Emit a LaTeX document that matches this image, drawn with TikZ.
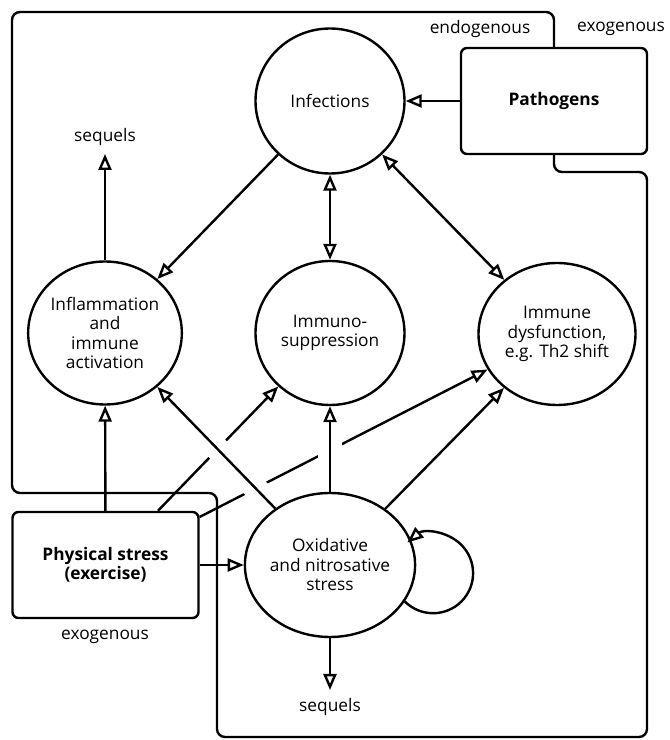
\documentclass[tikz,border=0pt]{standalone}
\usepackage{fontspec}
\setmainfont{Open Sans}
\usetikzlibrary{arrows.meta,shapes.geometric}

\begin{document}
\begin{tikzpicture}[x=1pt, y=1pt,
    txt/.style={font=\fontsize{17.3}{19.5}\selectfont},
    bubble/.style={ellipse, draw, line width=2.4pt, minimum width=149pt, minimum height=144pt, inner sep=0pt, align=center, txt},
    factor/.style={draw, rounded corners=6pt, line width=2.4pt, minimum width=186pt, minimum height=106pt, align=center, font=\fontsize{17.3}{19.5}\selectfont\bfseries},
    link/.style={line width=2.4pt, -{Triangle[open,length=16pt,width=13pt]}},
    twoway/.style={line width=2.4pt, {Triangle[open,length=16pt,width=13pt]}-{Triangle[open,length=16pt,width=13pt]}},
    gap/.style={preaction={draw=white, -, line width=24pt, shorten <=12pt, shorten >=12pt}}]
    \useasboundingbox (0,0) rectangle (670,740);

    % Stressors and immune states
    \node[factor] (pathogens) at (554,639) {Pathogens};
    \node[factor] (physical) at (105.5,175) {Physical stress\\(exercise)};
    \node[bubble, minimum height=145pt] (infections) at (330,639) {Infections};
    \node[bubble, minimum width=150pt, minimum height=143pt] (inflammation) at (105,407) {Inflammation\\and\\immune\\activation};
    \node[bubble] (suppression) at (330,407) {Immuno-\\suppression};
    \node[bubble, minimum width=157pt, minimum height=142pt] (dysfunction) at (557,406) {Immune\\dysfunction,\\e.g. Th2 shift};
    \node[bubble] (oxidative) at (330,175) {Oxidative\\and nitrosative\\stress};

    % Endogenous region
    \draw[line width=2.4pt, rounded corners=8pt] (pathogens.north) |- (12,728) -- (12,247) -- (217,247)
        -- (217,3) -- (647,3) -- (647,568) -| (pathogens.south);
    \node[txt] (endo) at (480,711) {endogenous};
    \node[txt] (exotop) at (621,711) {exogenous};
    \node[txt] (exobottom) at (105,103) {exogenous};
    \node[txt] (seqtop) at (105,603) {sequels};
    \node[txt] (seqbottom) at (330,33) {sequels};
    \coordinate (seqtoptip) at (105,586);
    \coordinate (seqbottomtip) at (330,50);

    % Infections
    \draw[link] (pathogens) -- (infections);
    \draw[link] (infections) -- (inflammation);
    \draw[twoway] (infections) -- (suppression);
    \draw[twoway] (infections) -- (dysfunction);
    \draw[link] (inflammation) -- (seqtoptip);

    % Physical stress
    \draw[link] (physical) -- (inflammation);
    \draw[link] (physical) -- (suppression);
    \draw[link] (physical) -- (dysfunction);
    \draw[link] (physical) -- (oxidative);

    % Oxidative and nitrosative stress
    \draw[link, gap] (oxidative) -- (inflammation);
    \draw[link, gap] (oxidative) -- (suppression);
    \draw[link, gap] (oxidative) -- (dysfunction);
    \draw[link] (oxidative) -- (seqbottomtip);
    \draw[link] (oxidative.-26) arc[start angle=-135, end angle=130, radius=40];
\end{tikzpicture}
\end{document}
